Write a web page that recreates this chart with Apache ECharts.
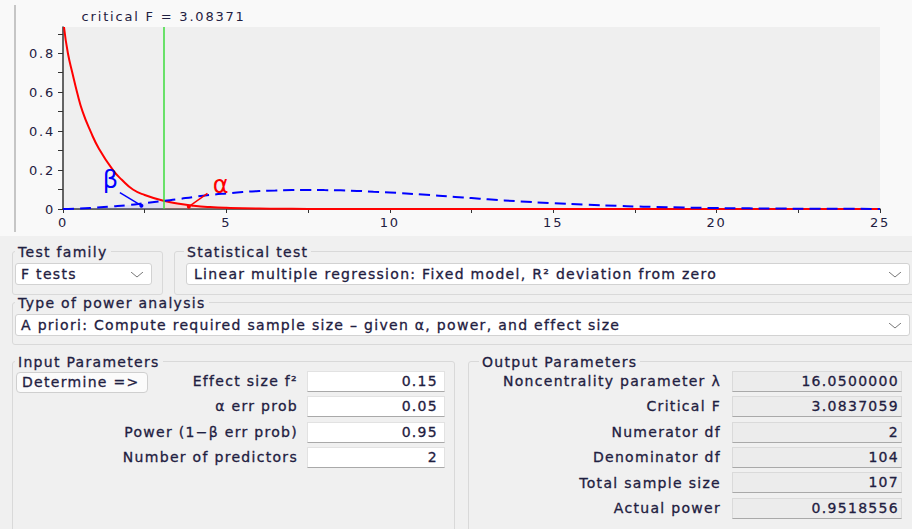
<!DOCTYPE html>
<html>
<head>
<meta charset="utf-8">
<script src="https://cdn.jsdelivr.net/npm/echarts@6/dist/echarts.min.js"></script>
<style>
  body { margin:0; width:912px; height:529px; overflow:hidden; position:relative;
         background:#f0f0f0; font-family:'DejaVu Sans', sans-serif; font-size:14px; color:#1f2041;
         letter-spacing:1.3px; -webkit-text-stroke:0.3px #1f2041; }
  #main { position:absolute; left:0; top:0; width:912px; height:236px; -webkit-text-stroke:0; }
  #main text { letter-spacing:1.8px; }
  .grp { position:absolute; border:1px solid #d9d9d9; border-radius:3px; }
  .lbl { position:absolute; line-height:16px; padding:0 3px; background:#f0f0f0; white-space:nowrap; }
  .dd { position:absolute; box-sizing:border-box; height:22px; background:#fff; border:1px solid #d2d2d2;
        border-radius:3px; line-height:20px; padding-left:5px; white-space:nowrap; }
  .dd svg { position:absolute; right:8px; top:8px; }
  .rl { position:absolute; line-height:16px; text-align:right; white-space:nowrap; }
  .in { position:absolute; box-sizing:border-box; height:21px; background:#fff; border:1px solid #e2e2e2;
        border-bottom:1px solid #a9a9a9; line-height:19px; text-align:right; padding-right:6px; }
  .out { position:absolute; box-sizing:border-box; height:21px; background:#ececec; border:1px solid #dadada;
         border-bottom:1px solid #a9a9a9; line-height:19px; text-align:right; padding-right:2px; }
  .btn { position:absolute; box-sizing:border-box; background:#fbfbfb; border:1px solid #cfcfcf; border-radius:4px;
         line-height:19px; padding-left:5px; white-space:nowrap; }
</style>
</head>
<body>
<div id="main"></div>

<div class="grp" style="left:12px;top:251px;width:149px;height:42px"></div>
<div class="lbl" style="left:15px;top:244px">Test family</div>
<div class="dd" style="left:15px;top:263px;width:137px">F tests<svg width="12" height="6"><polyline points="0,0 6,5 12,0" fill="none" stroke="#777"/></svg></div>

<div class="grp" style="left:174px;top:251px;width:740px;height:42px"></div>
<div class="lbl" style="left:184px;top:244px">Statistical test</div>
<div class="dd" style="left:186px;top:263px;width:724px;padding-left:7px">Linear multiple regression: Fixed model, R² deviation from zero<svg width="12" height="6"><polyline points="0,0 6,5 12,0" fill="none" stroke="#777"/></svg></div>

<div class="grp" style="left:12px;top:302px;width:902px;height:41px"></div>
<div class="lbl" style="left:15px;top:295px">Type of power analysis</div>
<div class="dd" style="left:15px;top:314px;width:895px">A priori: Compute required sample size – given α, power, and effect size<svg width="12" height="6"><polyline points="0,0 6,5 12,0" fill="none" stroke="#777"/></svg></div>

<div class="grp" style="left:12px;top:361px;width:441px;height:190px"></div>
<div class="lbl" style="left:15px;top:354px">Input Parameters</div>
<div class="btn" style="left:16px;top:372px;width:132px;height:21px">Determine =&gt;</div>
<div class="rl" style="right:614px;top:373px">Effect size f²</div>
<div class="rl" style="right:614px;top:398px">α err prob</div>
<div class="rl" style="right:614px;top:424px">Power (1−β err prob)</div>
<div class="rl" style="right:614px;top:449px">Number of predictors</div>
<div class="in" style="left:307px;top:371px;width:138px">0.15</div>
<div class="in" style="left:307px;top:396px;width:138px">0.05</div>
<div class="in" style="left:307px;top:422px;width:138px">0.95</div>
<div class="in" style="left:307px;top:447px;width:138px">2</div>

<div class="grp" style="left:468px;top:361px;width:460px;height:190px"></div>
<div class="lbl" style="left:479px;top:354px">Output Parameters</div>
<div class="rl" style="right:191px;top:373px">Noncentrality parameter λ</div>
<div class="rl" style="right:191px;top:398px">Critical F</div>
<div class="rl" style="right:191px;top:424px">Numerator df</div>
<div class="rl" style="right:191px;top:449px">Denominator df</div>
<div class="rl" style="right:191px;top:475px">Total sample size</div>
<div class="rl" style="right:191px;top:500px">Actual power</div>
<div class="out" style="left:732px;top:371px;width:170px">16.0500000</div>
<div class="out" style="left:732px;top:396px;width:170px">3.0837059</div>
<div class="out" style="left:732px;top:422px;width:170px">2</div>
<div class="out" style="left:732px;top:447px;width:170px">104</div>
<div class="out" style="left:732px;top:472px;width:170px">107</div>
<div class="out" style="left:732px;top:498px;width:170px">0.9518556</div>

<script>
// values
var critF = 3.08371;
var redX = [0.03, 0.15, 0.3, 0.43, 0.6, 0.84, 1.1, 1.53, 1.8, 2.14, 2.5, 3.08371, 3.5, 4, 4.5, 5, 6, 7, 8, 10, 15, 20, 25];
var redY = [0.935, 0.80, 0.69, 0.60, 0.50, 0.40, 0.31, 0.20, 0.15, 0.10, 0.072, 0.042, 0.028, 0.017, 0.010, 0.006, 0.002, 0.0008, 0.0003, 0, 0, 0, 0];
var blueX = [0, 0.5, 1, 1.5, 2, 2.5, 3.08371, 3.5, 4, 4.5, 5, 5.5, 6, 6.5, 7, 7.5, 8, 8.5, 9, 9.5, 10, 11, 12, 12.5, 13, 14, 15, 16, 17, 17.5, 18, 19, 20, 21, 22, 23, 24, 25];
var blueY = [0, 0.002, 0.007, 0.013, 0.020, 0.030, 0.042, 0.050, 0.062, 0.072, 0.080, 0.087, 0.092, 0.095, 0.097, 0.098, 0.097, 0.096, 0.093, 0.089, 0.085, 0.074, 0.062, 0.056, 0.050, 0.039, 0.030, 0.022, 0.016, 0.013, 0.011, 0.0075, 0.005, 0.0033, 0.0021, 0.0013, 0.0008, 0.0005];

var redData = redX.map(function (x, i) { return [x, redY[i]]; });
var blueData = blueX.map(function (x, i) { return [x, blueY[i]]; });
var betaData = blueData.filter(function (p) { return p[0] <= critF; });
var alphaData = redData.filter(function (p) { return p[0] >= critF; });

var txt = '#1f2041';
// svg renderer so the css letter-spacing reaches the axis texts
var myChart = echarts.init(document.getElementById('main'), null, { renderer: 'svg' });

var option = {
  backgroundColor: '#f9f9f9',
  animation: false,
  graphic: [
    { type: 'line', shape: { x1: 15, y1: 5, x2: 15, y2: 232 }, style: { stroke: '#b5b5b5', lineWidth: 1.5 } }
  ],
  grid: { left: 63, right: 32, top: 27, bottom: 27, show: true, backgroundColor: '#efefef', borderWidth: 0 },
  xAxis: {
    type: 'value', min: 0, max: 25, interval: 2.5,
    axisLine: { show: true, onZero: false, lineStyle: { color: '#333', width: 1.5 } },
    axisTick: { show: true, length: 4, lineStyle: { color: '#333' } },
    splitLine: { show: false },
    axisLabel: {
      color: txt, fontSize: 13, fontFamily: 'DejaVu Sans', margin: 7,
      formatter: function (v) { return v % 5 === 0 ? String(v) : ''; }
    }
  },
  yAxis: {
    type: 'value', min: 0, max: 0.935, interval: 0.1,
    axisLine: { show: true, lineStyle: { color: '#333', width: 1.5 } },
    axisTick: { show: true, length: 5, lineStyle: { color: '#333' } },
    splitLine: { show: false },
    axisLabel: {
      color: txt, fontSize: 13, fontFamily: 'DejaVu Sans', margin: 8, showMaxLabel: false,
      formatter: function (v) {
        var k = v * 5;
        if (Math.abs(k - Math.round(k)) > 1e-6) return '';
        return v === 0 ? '0' : v.toFixed(1);
      }
    }
  },
  series: [
    {
      name: 'beta', type: 'line', data: betaData, smooth: true, showSymbol: false,
      lineStyle: { width: 0 }, areaStyle: { color: 'rgba(160,160,255,0.3)' }, z: 1
    },
    {
      name: 'alpha', type: 'line', data: alphaData, smooth: true, showSymbol: false,
      lineStyle: { width: 0 }, areaStyle: { color: 'rgba(255,150,150,0.35)' }, z: 1
    },
    {
      name: 'H0', type: 'line', data: redData, smooth: true, showSymbol: false,
      lineStyle: { color: '#ff0000', width: 2 }, z: 3,
      markLine: {
        silent: true, symbol: 'none',
        data: [
          {
            xAxis: critF,
            lineStyle: { color: '#3ddc3d', width: 1.5, type: 'solid' },
            label: { show: true, position: 'end', formatter: 'critical F = 3.08371', color: txt,
                     fontSize: 13, fontFamily: 'DejaVu Sans', distance: 4 }
          },
          [
            { coord: [4.42, 0.08], symbol: 'none' },
            { coord: [3.85, 0.012], symbol: 'circle', symbolSize: 4 }
          ]
        ],
        lineStyle: { color: '#ff0000', width: 1.5, type: 'solid' },
        label: { show: false }
      },
      markPoint: {
        silent: true,
        data: [{ coord: [4.85, 0.125], symbol: 'circle', symbolSize: 1, itemStyle: { color: 'rgba(0,0,0,0)' },
                 label: { show: true, position: 'inside', formatter: 'α', color: '#ff0000', fontSize: 24, fontFamily: 'DejaVu Sans' } }]
      }
    },
    {
      name: 'H1', type: 'line', data: blueData, smooth: true, showSymbol: false,
      lineStyle: { color: '#0000ff', width: 2, type: [11, 6] }, z: 4,
      markLine: {
        silent: true,
        data: [[
          { coord: [1.74, 0.084], symbol: 'none' },
          { coord: [2.4, 0.017], symbol: 'circle', symbolSize: 4 }
        ]],
        lineStyle: { color: '#0000ff', width: 1.5, type: 'solid' },
        label: { show: false }
      },
      markPoint: {
        silent: true,
        data: [{ coord: [1.48, 0.15], symbol: 'circle', symbolSize: 1, itemStyle: { color: 'rgba(0,0,0,0)' },
                 label: { show: true, position: 'inside', formatter: 'β', color: '#0000ff', fontSize: 24, fontFamily: 'DejaVu Sans' } }]
      }
    }
  ]
};

myChart.setOption(option);

window.onresize = () => {
  myChart.resize()
}
</script>
</body>
</html>
